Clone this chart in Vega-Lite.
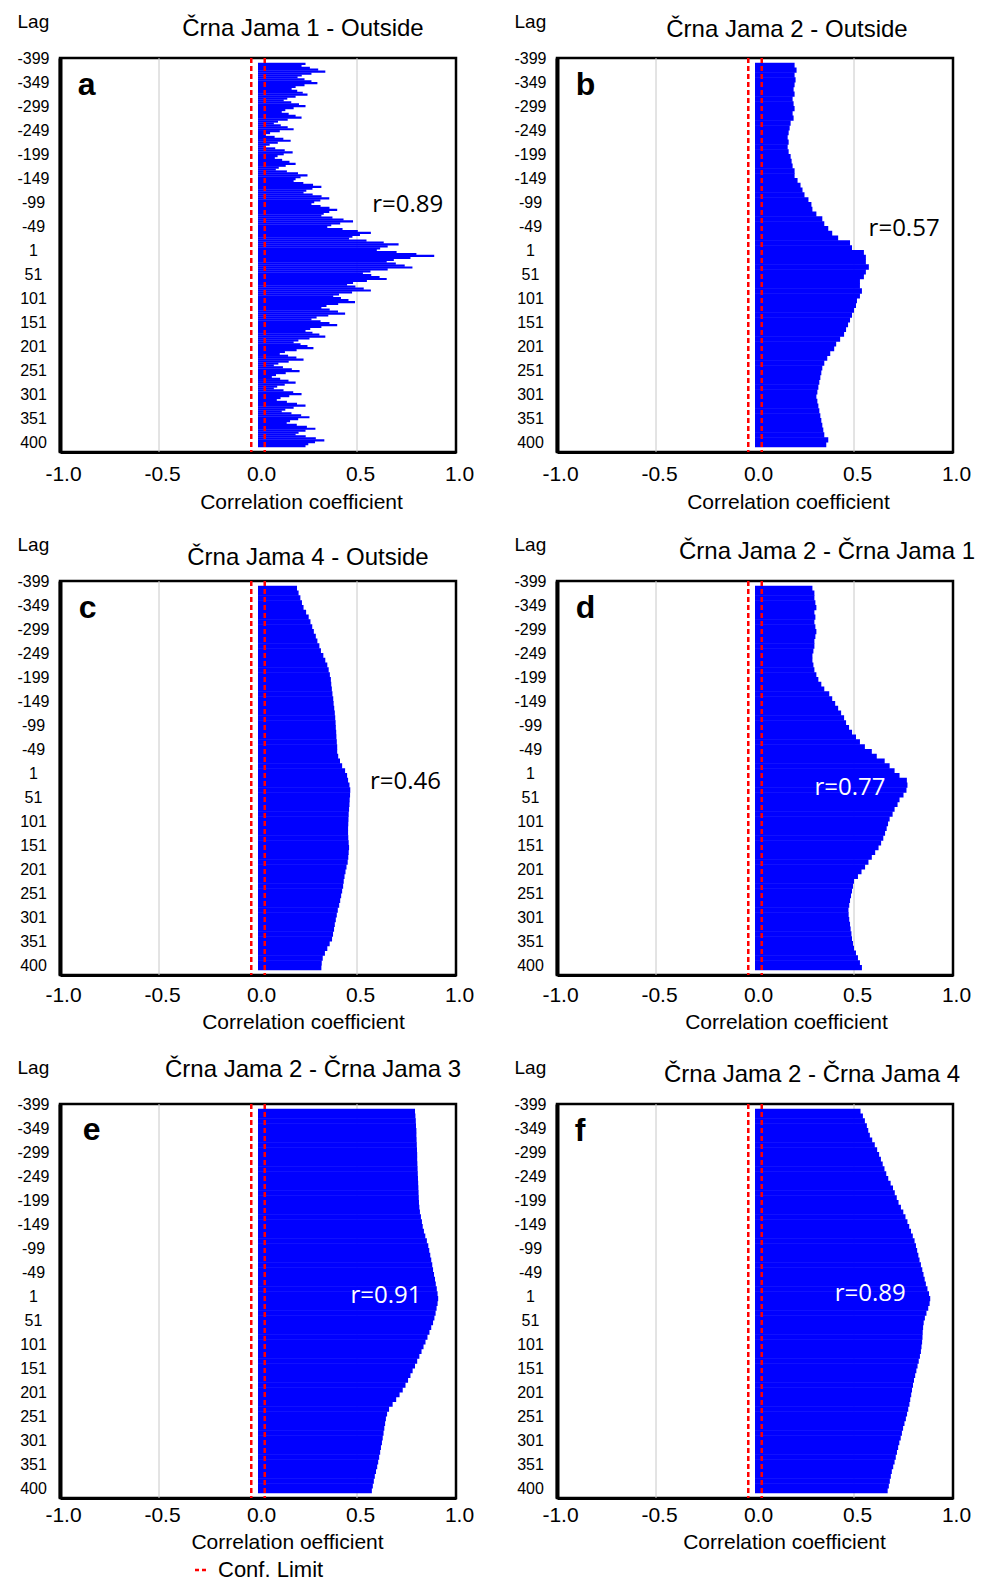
{
"$schema": "https://vega.github.io/schema/vega-lite/v6.json",
"background": "white",
"padding": {"left": 15, "top": 10, "right": 0, "bottom": 0},
"columns": 2,
"bounds": "flush",
"spacing": {"row": 129, "column": 101},
"datasets": {
"a": [
{"lag":-398,"r":0.24},
{"lag":-394,"r":0.22},{"lag":-390,"r":0.262},{"lag":-386,"r":0.304},{"lag":-382,"r":0.34},{"lag":-378,"r":0.27},{"lag":-374,"r":0.221},
{"lag":-370,"r":0.2},{"lag":-366,"r":0.235},{"lag":-362,"r":0.27},{"lag":-358,"r":0.3},{"lag":-354,"r":0.235},{"lag":-350,"r":0.19},
{"lag":-346,"r":0.17},{"lag":-342,"r":0.198},{"lag":-338,"r":0.226},{"lag":-334,"r":0.25},{"lag":-330,"r":0.19},{"lag":-326,"r":0.148},
{"lag":-322,"r":0.13},{"lag":-318,"r":0.168},{"lag":-314,"r":0.207},{"lag":-310,"r":0.24},{"lag":-306,"r":0.18},{"lag":-302,"r":0.138},
{"lag":-298,"r":0.12},{"lag":-294,"r":0.155},{"lag":-290,"r":0.19},{"lag":-286,"r":0.22},{"lag":-282,"r":0.15},{"lag":-278,"r":0.101},
{"lag":-274,"r":0.08},{"lag":-270,"r":0.115},{"lag":-266,"r":0.15},{"lag":-262,"r":0.18},{"lag":-258,"r":0.11},{"lag":-254,"r":0.061},
{"lag":-250,"r":0.04},{"lag":-246,"r":0.084},{"lag":-242,"r":0.128},{"lag":-238,"r":0.165},{"lag":-234,"r":0.1},{"lag":-230,"r":0.059},
{"lag":-226,"r":0.04},{"lag":-222,"r":0.087},{"lag":-218,"r":0.135},{"lag":-214,"r":0.175},{"lag":-210,"r":0.13},{"lag":-206,"r":0.099},
{"lag":-202,"r":0.085},{"lag":-198,"r":0.122},{"lag":-194,"r":0.159},{"lag":-190,"r":0.19},{"lag":-186,"r":0.14},{"lag":-182,"r":0.105},
{"lag":-178,"r":0.09},{"lag":-174,"r":0.146},{"lag":-170,"r":0.202},{"lag":-166,"r":0.25},{"lag":-162,"r":0.215},{"lag":-158,"r":0.19},
{"lag":-154,"r":0.18},{"lag":-150,"r":0.229},{"lag":-146,"r":0.278},{"lag":-142,"r":0.32},{"lag":-138,"r":0.275},{"lag":-134,"r":0.244},
{"lag":-130,"r":0.23},{"lag":-126,"r":0.276},{"lag":-122,"r":0.321},{"lag":-118,"r":0.36},{"lag":-114,"r":0.315},{"lag":-110,"r":0.284},
{"lag":-106,"r":0.27},{"lag":-102,"r":0.316},{"lag":-98,"r":0.361},{"lag":-94,"r":0.4},{"lag":-90,"r":0.36},{"lag":-86,"r":0.332},
{"lag":-82,"r":0.32},{"lag":-78,"r":0.376},{"lag":-74,"r":0.432},{"lag":-70,"r":0.48},{"lag":-66,"r":0.415},{"lag":-62,"r":0.37},
{"lag":-58,"r":0.35},{"lag":-54,"r":0.427},{"lag":-50,"r":0.504},{"lag":-46,"r":0.57},{"lag":-42,"r":0.515},{"lag":-38,"r":0.477},
{"lag":-34,"r":0.46},{"lag":-30,"r":0.548},{"lag":-26,"r":0.635},{"lag":-22,"r":0.71},{"lag":-18,"r":0.655},{"lag":-14,"r":0.617},
{"lag":-10,"r":0.6},{"lag":-6,"r":0.7},{"lag":-2,"r":0.8},{"lag":2,"r":0.89},{"lag":6,"r":0.77},{"lag":10,"r":0.686},
{"lag":14,"r":0.65},{"lag":18,"r":0.696},{"lag":22,"r":0.741},{"lag":26,"r":0.78},{"lag":30,"r":0.655},{"lag":34,"r":0.568},
{"lag":38,"r":0.53},{"lag":42,"r":0.572},{"lag":46,"r":0.614},{"lag":50,"r":0.65},{"lag":54,"r":0.55},{"lag":58,"r":0.48},
{"lag":62,"r":0.45},{"lag":66,"r":0.492},{"lag":70,"r":0.534},{"lag":74,"r":0.57},{"lag":78,"r":0.475},{"lag":82,"r":0.409},
{"lag":86,"r":0.38},{"lag":90,"r":0.419},{"lag":94,"r":0.457},{"lag":98,"r":0.49},{"lag":102,"r":0.405},{"lag":106,"r":0.346},
{"lag":110,"r":0.32},{"lag":114,"r":0.362},{"lag":118,"r":0.404},{"lag":122,"r":0.44},{"lag":126,"r":0.355},{"lag":130,"r":0.296},
{"lag":134,"r":0.27},{"lag":138,"r":0.316},{"lag":142,"r":0.361},{"lag":146,"r":0.4},{"lag":150,"r":0.32},{"lag":154,"r":0.264},
{"lag":158,"r":0.24},{"lag":162,"r":0.275},{"lag":166,"r":0.31},{"lag":170,"r":0.34},{"lag":174,"r":0.26},{"lag":178,"r":0.204},
{"lag":182,"r":0.18},{"lag":186,"r":0.215},{"lag":190,"r":0.25},{"lag":194,"r":0.28},{"lag":198,"r":0.195},{"lag":202,"r":0.136},
{"lag":206,"r":0.11},{"lag":210,"r":0.152},{"lag":214,"r":0.194},{"lag":218,"r":0.23},{"lag":222,"r":0.155},{"lag":226,"r":0.103},
{"lag":230,"r":0.08},{"lag":234,"r":0.126},{"lag":238,"r":0.171},{"lag":242,"r":0.21},{"lag":246,"r":0.14},{"lag":250,"r":0.091},
{"lag":254,"r":0.07},{"lag":258,"r":0.112},{"lag":262,"r":0.154},{"lag":266,"r":0.19},{"lag":270,"r":0.135},{"lag":274,"r":0.097},
{"lag":278,"r":0.08},{"lag":282,"r":0.129},{"lag":286,"r":0.178},{"lag":290,"r":0.22},{"lag":294,"r":0.158},{"lag":298,"r":0.114},
{"lag":302,"r":0.095},{"lag":306,"r":0.146},{"lag":310,"r":0.197},{"lag":314,"r":0.24},{"lag":318,"r":0.18},{"lag":322,"r":0.138},
{"lag":326,"r":0.12},{"lag":330,"r":0.169},{"lag":334,"r":0.218},{"lag":338,"r":0.26},{"lag":342,"r":0.203},{"lag":346,"r":0.162},
{"lag":350,"r":0.145},{"lag":354,"r":0.196},{"lag":358,"r":0.247},{"lag":362,"r":0.29},{"lag":366,"r":0.24},{"lag":370,"r":0.205},
{"lag":374,"r":0.19},{"lag":378,"r":0.241},{"lag":382,"r":0.292},{"lag":386,"r":0.335},{"lag":390,"r":0.288},{"lag":394,"r":0.254},
{"lag":398,"r":0.24}
],
"b": [
{"lag":-395,"r":0.2},{"lag":-385,"r":0.21},{"lag":-375,"r":0.2},{"lag":-365,"r":0.205},{"lag":-355,"r":0.2},{"lag":-345,"r":0.195},{"lag":-335,"r":0.2},{"lag":-325,"r":0.19},{"lag":-315,"r":0.195},{"lag":-305,"r":0.2},
{"lag":-295,"r":0.19},{"lag":-285,"r":0.195},{"lag":-275,"r":0.18},{"lag":-265,"r":0.175},{"lag":-255,"r":0.17},{"lag":-245,"r":0.165},{"lag":-235,"r":0.17},{"lag":-225,"r":0.165},{"lag":-215,"r":0.17},{"lag":-205,"r":0.18},
{"lag":-195,"r":0.185},{"lag":-185,"r":0.19},{"lag":-175,"r":0.2},{"lag":-165,"r":0.2},{"lag":-155,"r":0.215},{"lag":-145,"r":0.23},{"lag":-135,"r":0.24},{"lag":-125,"r":0.25},{"lag":-115,"r":0.27},{"lag":-105,"r":0.285},
{"lag":-95,"r":0.29},{"lag":-85,"r":0.31},{"lag":-75,"r":0.34},{"lag":-65,"r":0.35},{"lag":-55,"r":0.37},{"lag":-45,"r":0.39},{"lag":-35,"r":0.42},{"lag":-25,"r":0.48},{"lag":-15,"r":0.49},{"lag":-5,"r":0.55},
{"lag":5,"r":0.56},{"lag":15,"r":0.56},{"lag":25,"r":0.575},{"lag":35,"r":0.56},{"lag":45,"r":0.55},{"lag":55,"r":0.53},{"lag":65,"r":0.53},{"lag":75,"r":0.54},{"lag":85,"r":0.53},{"lag":95,"r":0.515},
{"lag":105,"r":0.51},{"lag":115,"r":0.5},{"lag":125,"r":0.49},{"lag":135,"r":0.48},{"lag":145,"r":0.47},{"lag":155,"r":0.46},{"lag":165,"r":0.45},{"lag":175,"r":0.43},{"lag":185,"r":0.41},{"lag":195,"r":0.4},
{"lag":205,"r":0.38},{"lag":215,"r":0.365},{"lag":225,"r":0.35},{"lag":235,"r":0.34},{"lag":245,"r":0.335},{"lag":255,"r":0.33},{"lag":265,"r":0.325},{"lag":275,"r":0.32},{"lag":285,"r":0.315},{"lag":295,"r":0.31},
{"lag":305,"r":0.315},{"lag":315,"r":0.32},{"lag":325,"r":0.325},{"lag":335,"r":0.33},{"lag":345,"r":0.335},{"lag":355,"r":0.34},{"lag":365,"r":0.345},{"lag":375,"r":0.35},{"lag":385,"r":0.37},{"lag":395,"r":0.36}
],
"c": [
{"lag":-395,"r":0.197},{"lag":-385,"r":0.205},{"lag":-375,"r":0.214},{"lag":-365,"r":0.222},{"lag":-355,"r":0.23},{"lag":-345,"r":0.243},{"lag":-335,"r":0.256},{"lag":-325,"r":0.265},{"lag":-315,"r":0.274},{"lag":-305,"r":0.282},
{"lag":-295,"r":0.292},{"lag":-285,"r":0.3},{"lag":-275,"r":0.31},{"lag":-265,"r":0.318},{"lag":-255,"r":0.33},{"lag":-245,"r":0.34},{"lag":-235,"r":0.35},{"lag":-225,"r":0.357},{"lag":-215,"r":0.363},{"lag":-205,"r":0.368},
{"lag":-195,"r":0.37},{"lag":-185,"r":0.373},{"lag":-175,"r":0.376},{"lag":-165,"r":0.38},{"lag":-155,"r":0.382},{"lag":-145,"r":0.385},{"lag":-135,"r":0.388},{"lag":-125,"r":0.39},{"lag":-115,"r":0.392},{"lag":-105,"r":0.393},
{"lag":-95,"r":0.395},{"lag":-85,"r":0.396},{"lag":-75,"r":0.398},{"lag":-65,"r":0.4},{"lag":-55,"r":0.4},{"lag":-45,"r":0.405},{"lag":-35,"r":0.414},{"lag":-25,"r":0.425},{"lag":-15,"r":0.44},{"lag":-5,"r":0.45},
{"lag":5,"r":0.455},{"lag":15,"r":0.462},{"lag":25,"r":0.466},{"lag":35,"r":0.465},{"lag":45,"r":0.463},{"lag":55,"r":0.462},{"lag":65,"r":0.46},{"lag":75,"r":0.458},{"lag":85,"r":0.457},{"lag":95,"r":0.456},
{"lag":105,"r":0.455},{"lag":115,"r":0.455},{"lag":125,"r":0.456},{"lag":135,"r":0.458},{"lag":145,"r":0.46},{"lag":155,"r":0.458},{"lag":165,"r":0.456},{"lag":175,"r":0.453},{"lag":185,"r":0.447},{"lag":195,"r":0.442},
{"lag":205,"r":0.437},{"lag":215,"r":0.433},{"lag":225,"r":0.43},{"lag":235,"r":0.425},{"lag":245,"r":0.42},{"lag":255,"r":0.415},{"lag":265,"r":0.41},{"lag":275,"r":0.403},{"lag":285,"r":0.398},{"lag":295,"r":0.393},
{"lag":305,"r":0.388},{"lag":315,"r":0.384},{"lag":325,"r":0.379},{"lag":335,"r":0.374},{"lag":345,"r":0.362},{"lag":355,"r":0.35},{"lag":365,"r":0.338},{"lag":375,"r":0.327},{"lag":385,"r":0.322},{"lag":395,"r":0.32}
],
"d": [
{"lag":-395,"r":0.29},{"lag":-385,"r":0.3},{"lag":-375,"r":0.3},{"lag":-365,"r":0.305},{"lag":-355,"r":0.31},{"lag":-345,"r":0.3},{"lag":-335,"r":0.305},{"lag":-325,"r":0.3},{"lag":-315,"r":0.305},{"lag":-305,"r":0.31},
{"lag":-295,"r":0.305},{"lag":-285,"r":0.3},{"lag":-275,"r":0.3},{"lag":-265,"r":0.295},{"lag":-255,"r":0.29},{"lag":-245,"r":0.29},{"lag":-235,"r":0.295},{"lag":-225,"r":0.3},{"lag":-215,"r":0.31},{"lag":-205,"r":0.32},
{"lag":-195,"r":0.335},{"lag":-185,"r":0.35},{"lag":-175,"r":0.375},{"lag":-165,"r":0.39},{"lag":-155,"r":0.405},{"lag":-145,"r":0.42},{"lag":-135,"r":0.435},{"lag":-125,"r":0.45},{"lag":-115,"r":0.46},{"lag":-105,"r":0.475},
{"lag":-95,"r":0.49},{"lag":-85,"r":0.51},{"lag":-75,"r":0.53},{"lag":-65,"r":0.555},{"lag":-55,"r":0.59},{"lag":-45,"r":0.615},{"lag":-35,"r":0.655},{"lag":-25,"r":0.68},{"lag":-15,"r":0.705},{"lag":-5,"r":0.73},
{"lag":5,"r":0.767},{"lag":15,"r":0.77},{"lag":25,"r":0.765},{"lag":35,"r":0.75},{"lag":45,"r":0.73},{"lag":55,"r":0.72},{"lag":65,"r":0.705},{"lag":75,"r":0.695},{"lag":85,"r":0.68},{"lag":95,"r":0.672},
{"lag":105,"r":0.665},{"lag":115,"r":0.657},{"lag":125,"r":0.648},{"lag":135,"r":0.637},{"lag":145,"r":0.624},{"lag":155,"r":0.607},{"lag":165,"r":0.59},{"lag":175,"r":0.573},{"lag":185,"r":0.556},{"lag":195,"r":0.538},
{"lag":205,"r":0.52},{"lag":215,"r":0.5},{"lag":225,"r":0.495},{"lag":235,"r":0.49},{"lag":245,"r":0.485},{"lag":255,"r":0.48},{"lag":265,"r":0.476},{"lag":275,"r":0.472},{"lag":285,"r":0.473},{"lag":295,"r":0.476},
{"lag":305,"r":0.48},{"lag":315,"r":0.483},{"lag":325,"r":0.487},{"lag":335,"r":0.49},{"lag":345,"r":0.495},{"lag":355,"r":0.5},{"lag":365,"r":0.51},{"lag":375,"r":0.52},{"lag":385,"r":0.53},{"lag":395,"r":0.54}
],
"e": [
{"lag":-395,"r":0.793},{"lag":-385,"r":0.795},{"lag":-375,"r":0.797},{"lag":-365,"r":0.798},{"lag":-355,"r":0.8},{"lag":-345,"r":0.8},{"lag":-335,"r":0.801},{"lag":-325,"r":0.802},{"lag":-315,"r":0.803},{"lag":-305,"r":0.804},
{"lag":-295,"r":0.804},{"lag":-285,"r":0.805},{"lag":-275,"r":0.806},{"lag":-265,"r":0.807},{"lag":-255,"r":0.808},{"lag":-245,"r":0.809},{"lag":-235,"r":0.81},{"lag":-225,"r":0.811},{"lag":-215,"r":0.812},{"lag":-205,"r":0.813},
{"lag":-195,"r":0.815},{"lag":-185,"r":0.818},{"lag":-175,"r":0.823},{"lag":-165,"r":0.828},{"lag":-155,"r":0.832},{"lag":-145,"r":0.838},{"lag":-135,"r":0.845},{"lag":-125,"r":0.853},{"lag":-115,"r":0.86},{"lag":-105,"r":0.865},
{"lag":-95,"r":0.87},{"lag":-85,"r":0.875},{"lag":-75,"r":0.88},{"lag":-65,"r":0.884},{"lag":-55,"r":0.889},{"lag":-45,"r":0.894},{"lag":-35,"r":0.898},{"lag":-25,"r":0.903},{"lag":-15,"r":0.907},{"lag":-5,"r":0.91},
{"lag":5,"r":0.907},{"lag":15,"r":0.902},{"lag":25,"r":0.897},{"lag":35,"r":0.891},{"lag":45,"r":0.884},{"lag":55,"r":0.875},{"lag":65,"r":0.866},{"lag":75,"r":0.856},{"lag":85,"r":0.846},{"lag":95,"r":0.836},
{"lag":105,"r":0.826},{"lag":115,"r":0.815},{"lag":125,"r":0.804},{"lag":135,"r":0.793},{"lag":145,"r":0.781},{"lag":155,"r":0.77},{"lag":165,"r":0.758},{"lag":175,"r":0.745},{"lag":185,"r":0.731},{"lag":195,"r":0.715},
{"lag":205,"r":0.698},{"lag":215,"r":0.68},{"lag":225,"r":0.662},{"lag":235,"r":0.652},{"lag":245,"r":0.646},{"lag":255,"r":0.642},{"lag":265,"r":0.638},{"lag":275,"r":0.634},{"lag":285,"r":0.63},{"lag":295,"r":0.626},
{"lag":305,"r":0.621},{"lag":315,"r":0.617},{"lag":325,"r":0.612},{"lag":335,"r":0.607},{"lag":345,"r":0.602},{"lag":355,"r":0.596},{"lag":365,"r":0.59},{"lag":375,"r":0.585},{"lag":385,"r":0.58},{"lag":395,"r":0.575}
],
"f": [
{"lag":-395,"r":0.533},{"lag":-385,"r":0.545},{"lag":-375,"r":0.555},{"lag":-365,"r":0.565},{"lag":-355,"r":0.572},{"lag":-345,"r":0.58},{"lag":-335,"r":0.592},{"lag":-325,"r":0.605},{"lag":-315,"r":0.617},{"lag":-305,"r":0.627},
{"lag":-295,"r":0.636},{"lag":-285,"r":0.645},{"lag":-275,"r":0.654},{"lag":-265,"r":0.663},{"lag":-255,"r":0.673},{"lag":-245,"r":0.685},{"lag":-235,"r":0.697},{"lag":-225,"r":0.706},{"lag":-215,"r":0.716},{"lag":-205,"r":0.725},
{"lag":-195,"r":0.737},{"lag":-185,"r":0.749},{"lag":-175,"r":0.76},{"lag":-165,"r":0.77},{"lag":-155,"r":0.779},{"lag":-145,"r":0.788},{"lag":-135,"r":0.797},{"lag":-125,"r":0.806},{"lag":-115,"r":0.813},{"lag":-105,"r":0.819},
{"lag":-95,"r":0.825},{"lag":-85,"r":0.831},{"lag":-75,"r":0.838},{"lag":-65,"r":0.845},{"lag":-55,"r":0.851},{"lag":-45,"r":0.857},{"lag":-35,"r":0.863},{"lag":-25,"r":0.871},{"lag":-15,"r":0.879},{"lag":-5,"r":0.885},
{"lag":5,"r":0.882},{"lag":15,"r":0.875},{"lag":25,"r":0.866},{"lag":35,"r":0.858},{"lag":45,"r":0.852},{"lag":55,"r":0.849},{"lag":65,"r":0.847},{"lag":75,"r":0.846},{"lag":85,"r":0.844},{"lag":95,"r":0.841},
{"lag":105,"r":0.838},{"lag":115,"r":0.833},{"lag":125,"r":0.827},{"lag":135,"r":0.821},{"lag":145,"r":0.815},{"lag":155,"r":0.809},{"lag":165,"r":0.803},{"lag":175,"r":0.798},{"lag":185,"r":0.793},{"lag":195,"r":0.789},
{"lag":205,"r":0.784},{"lag":215,"r":0.78},{"lag":225,"r":0.774},{"lag":235,"r":0.768},{"lag":245,"r":0.762},{"lag":255,"r":0.755},{"lag":265,"r":0.748},{"lag":275,"r":0.742},{"lag":285,"r":0.736},{"lag":295,"r":0.729},
{"lag":305,"r":0.723},{"lag":315,"r":0.717},{"lag":325,"r":0.711},{"lag":335,"r":0.705},{"lag":345,"r":0.698},{"lag":355,"r":0.691},{"lag":365,"r":0.686},{"lag":375,"r":0.681},{"lag":385,"r":0.676},{"lag":395,"r":0.67}
],
"limits": [{"limit": -0.034}, {"limit": 0.034}],
"grid": [{"g": -0.5}, {"g": 0.5}]
},
"concat": [
{
"width": 396, "height": 394,
"title": {"text": "Črna Jama 1 - Outside", "dx": 45, "dy": -2},
"layer": [
{"data": {"name": "grid"}, "mark": {"type": "rule", "color": "#c8c8c8", "strokeWidth": 1}, "encoding": {"x": {"field": "g", "type": "quantitative"}}},
{"data": {"name": "a"}, "mark": {"type": "bar", "orient": "horizontal", "color": "#0000ff", "size": 2.2, "clip": true},
 "encoding": {
  "y": {"field": "lag", "type": "quantitative", "scale": {"domain": [-400, 400], "reverse": true, "nice": false, "zero": false}, "axis": {"title": "Lag", "values": [-399,-349,-299,-249,-199,-149,-99,-49,1,51,101,151,201,251,301,351,400], "tickCount": 40, "labelOverlap": false, "labelExpr": "replace(datum.label, '−', '-')"}},
  "x": {"field": "r", "type": "quantitative", "scale": {"domain": [-1, 1], "nice": false}, "axis": {"title": "Correlation coefficient", "values": [-1,-0.5,0,0.5,1], "tickCount": 10, "format": ".1f", "labelOverlap": false, "labelExpr": "replace(datum.label, '−', '-')", "titleX": 241}}
 }},
{"data": {"name": "limits"}, "mark": {"type": "rule", "color": "#ff0000", "strokeDash": [5, 3], "strokeWidth": 2.5}, "encoding": {"x": {"field": "limit", "type": "quantitative"}}},
{"data": {"values": [{"lag": -103.5, "r": 0.756, "label": "r=0.89"}]}, "mark": {"type": "text", "font": "Open Sans", "fontSize": 24, "color": "black", "align": "center", "baseline": "middle"}, "encoding": {"x": {"field": "r", "type": "quantitative"}, "y": {"field": "lag", "type": "quantitative"}, "text": {"field": "label"}}},
{"data": {"values": [{"lag": -333, "r": -0.91, "label": "a"}]}, "mark": {"type": "text", "font": "Liberation Sans", "fontSize": 32, "fontWeight": "bold", "color": "black", "align": "left", "baseline": "alphabetic"}, "encoding": {"x": {"field": "r", "type": "quantitative"}, "y": {"field": "lag", "type": "quantitative"}, "text": {"field": "label"}}}
]
},
{
"width": 396, "height": 394,
"title": {"text": "Črna Jama 2 - Outside", "dx": 32, "dy": -1},
"layer": [
{"data": {"name": "grid"}, "mark": {"type": "rule", "color": "#c8c8c8", "strokeWidth": 1}, "encoding": {"x": {"field": "g", "type": "quantitative"}}},
{"data": {"name": "b"}, "mark": {"type": "bar", "orient": "horizontal", "color": "#0000ff", "size": 5.3, "clip": true},
 "encoding": {
  "y": {"field": "lag", "type": "quantitative", "scale": {"domain": [-400, 400], "reverse": true, "nice": false, "zero": false}, "axis": {"title": "Lag", "values": [-399,-349,-299,-249,-199,-149,-99,-49,1,51,101,151,201,251,301,351,400], "tickCount": 40, "labelOverlap": false, "labelExpr": "replace(datum.label, '−', '-')"}},
  "x": {"field": "r", "type": "quantitative", "scale": {"domain": [-1, 1], "nice": false}, "axis": {"title": "Correlation coefficient", "values": [-1,-0.5,0,0.5,1], "tickCount": 10, "format": ".1f", "labelOverlap": false, "labelExpr": "replace(datum.label, '−', '-')", "titleX": 231}}
 }},
{"data": {"name": "limits"}, "mark": {"type": "rule", "color": "#ff0000", "strokeDash": [5, 3], "strokeWidth": 2.5}, "encoding": {"x": {"field": "limit", "type": "quantitative"}}},
{"data": {"values": [{"lag": -55, "r": 0.753, "label": "r=0.57"}]}, "mark": {"type": "text", "font": "Open Sans", "fontSize": 24, "color": "black", "align": "center", "baseline": "middle"}, "encoding": {"x": {"field": "r", "type": "quantitative"}, "y": {"field": "lag", "type": "quantitative"}, "text": {"field": "label"}}},
{"data": {"values": [{"lag": -333, "r": -0.905, "label": "b"}]}, "mark": {"type": "text", "font": "Liberation Sans", "fontSize": 32, "fontWeight": "bold", "color": "black", "align": "left", "baseline": "alphabetic"}, "encoding": {"x": {"field": "r", "type": "quantitative"}, "y": {"field": "lag", "type": "quantitative"}, "text": {"field": "label"}}}
]
},
{
"width": 396, "height": 394,
"title": {"text": "Črna Jama 4 - Outside", "dx": 50, "dy": 4},
"layer": [
{"data": {"name": "grid"}, "mark": {"type": "rule", "color": "#c8c8c8", "strokeWidth": 1}, "encoding": {"x": {"field": "g", "type": "quantitative"}}},
{"data": {"name": "c"}, "mark": {"type": "bar", "orient": "horizontal", "color": "#0000ff", "size": 5.3, "clip": true},
 "encoding": {
  "y": {"field": "lag", "type": "quantitative", "scale": {"domain": [-400, 400], "reverse": true, "nice": false, "zero": false}, "axis": {"title": "Lag", "values": [-399,-349,-299,-249,-199,-149,-99,-49,1,51,101,151,201,251,301,351,400], "tickCount": 40, "labelOverlap": false, "labelExpr": "replace(datum.label, '−', '-')"}},
  "x": {"field": "r", "type": "quantitative", "scale": {"domain": [-1, 1], "nice": false}, "axis": {"title": "Correlation coefficient", "values": [-1,-0.5,0,0.5,1], "tickCount": 10, "format": ".1f", "labelOverlap": false, "labelExpr": "replace(datum.label, '−', '-')", "titleX": 243, "labelPadding": 9, "titleY": 53}}
 }},
{"data": {"name": "limits"}, "mark": {"type": "rule", "color": "#ff0000", "strokeDash": [5, 3], "strokeWidth": 2.5}, "encoding": {"x": {"field": "limit", "type": "quantitative"}}},
{"data": {"values": [{"lag": 9, "r": 0.745, "label": "r=0.46"}]}, "mark": {"type": "text", "font": "Open Sans", "fontSize": 24, "color": "black", "align": "center", "baseline": "middle"}, "encoding": {"x": {"field": "r", "type": "quantitative"}, "y": {"field": "lag", "type": "quantitative"}, "text": {"field": "label"}}},
{"data": {"values": [{"lag": -333, "r": -0.905, "label": "c"}]}, "mark": {"type": "text", "font": "Liberation Sans", "fontSize": 32, "fontWeight": "bold", "color": "black", "align": "left", "baseline": "alphabetic"}, "encoding": {"x": {"field": "r", "type": "quantitative"}, "y": {"field": "lag", "type": "quantitative"}, "text": {"field": "label"}}}
]
},
{
"width": 396, "height": 394,
"title": {"text": "Črna Jama 2 - Črna Jama 1", "dx": 72, "dy": -2},
"layer": [
{"data": {"name": "grid"}, "mark": {"type": "rule", "color": "#c8c8c8", "strokeWidth": 1}, "encoding": {"x": {"field": "g", "type": "quantitative"}}},
{"data": {"name": "d"}, "mark": {"type": "bar", "orient": "horizontal", "color": "#0000ff", "size": 5.3, "clip": true},
 "encoding": {
  "y": {"field": "lag", "type": "quantitative", "scale": {"domain": [-400, 400], "reverse": true, "nice": false, "zero": false}, "axis": {"title": "Lag", "values": [-399,-349,-299,-249,-199,-149,-99,-49,1,51,101,151,201,251,301,351,400], "tickCount": 40, "labelOverlap": false, "labelExpr": "replace(datum.label, '−', '-')"}},
  "x": {"field": "r", "type": "quantitative", "scale": {"domain": [-1, 1], "nice": false}, "axis": {"title": "Correlation coefficient", "values": [-1,-0.5,0,0.5,1], "tickCount": 10, "format": ".1f", "labelOverlap": false, "labelExpr": "replace(datum.label, '−', '-')", "titleX": 229, "labelPadding": 9, "titleY": 53}}
 }},
{"data": {"name": "limits"}, "mark": {"type": "rule", "color": "#ff0000", "strokeDash": [5, 3], "strokeWidth": 2.5}, "encoding": {"x": {"field": "limit", "type": "quantitative"}}},
{"data": {"values": [{"lag": 21, "r": 0.48, "label": "r=0.77"}]}, "mark": {"type": "text", "font": "Open Sans", "fontSize": 24, "color": "white", "align": "center", "baseline": "middle"}, "encoding": {"x": {"field": "r", "type": "quantitative"}, "y": {"field": "lag", "type": "quantitative"}, "text": {"field": "label"}}},
{"data": {"values": [{"lag": -333, "r": -0.905, "label": "d"}]}, "mark": {"type": "text", "font": "Liberation Sans", "fontSize": 32, "fontWeight": "bold", "color": "black", "align": "left", "baseline": "alphabetic"}, "encoding": {"x": {"field": "r", "type": "quantitative"}, "y": {"field": "lag", "type": "quantitative"}, "text": {"field": "label"}}}
]
},
{
"width": 396, "height": 394,
"title": {"text": "Črna Jama 2 - Črna Jama 3", "dx": 55, "dy": -7},
"layer": [
{"data": {"name": "grid"}, "mark": {"type": "rule", "color": "#c8c8c8", "strokeWidth": 1}, "encoding": {"x": {"field": "g", "type": "quantitative"}}},
{"data": {"name": "e"}, "mark": {"type": "bar", "orient": "horizontal", "color": "#0000ff", "size": 5.3, "clip": true},
 "encoding": {
  "y": {"field": "lag", "type": "quantitative", "scale": {"domain": [-400, 400], "reverse": true, "nice": false, "zero": false}, "axis": {"title": "Lag", "values": [-399,-349,-299,-249,-199,-149,-99,-49,1,51,101,151,201,251,301,351,400], "tickCount": 40, "labelOverlap": false, "labelExpr": "replace(datum.label, '−', '-')"}},
  "x": {"field": "r", "type": "quantitative", "scale": {"domain": [-1, 1], "nice": false}, "axis": {"title": "Correlation oefficient", "values": [-1,-0.5,0,0.5,1], "tickCount": 10, "format": ".1f", "labelOverlap": false, "labelExpr": "replace(datum.label, '−', '-')", "titleX": 227, "labelPadding": 6, "titleY": 50}}
 }},
{"data": {"name": "limits"}, "mark": {"type": "rule", "strokeDash": [5, 3], "strokeWidth": 2.5}, "encoding": {"x": {"field": "limit", "type": "quantitative"},
  "color": {"datum": "Conf. Limit", "type": "nominal", "scale": {"range": ["#ff0000"]},
   "legend": {"title": null, "orient": "none", "legendX": 130, "legendY": 1501, "symbolType": "stroke", "symbolDash": [4, 3], "symbolStrokeWidth": 2.5, "symbolSize": 144, "symbolStrokeColor": "#ff0000", "labelFontSize": 22, "labelFont": "Liberation Sans", "labelColor": "black", "labelOffset": 6, "padding": 0}}}},
{"data": {"values": [{"lag": -9.5, "r": 0.646, "label": "r=0.91"}]}, "mark": {"type": "text", "font": "Open Sans", "fontSize": 24, "color": "white", "align": "center", "baseline": "middle"}, "encoding": {"x": {"field": "r", "type": "quantitative"}, "y": {"field": "lag", "type": "quantitative"}, "text": {"field": "label"}}},
{"data": {"values": [{"lag": -335, "r": -0.885, "label": "e"}]}, "mark": {"type": "text", "font": "Liberation Sans", "fontSize": 32, "fontWeight": "bold", "color": "black", "align": "left", "baseline": "alphabetic"}, "encoding": {"x": {"field": "r", "type": "quantitative"}, "y": {"field": "lag", "type": "quantitative"}, "text": {"field": "label"}}}
]
},
{
"width": 396, "height": 394,
"title": {"text": "Črna Jama 2 - Črna Jama 4", "dx": 57, "dy": -2},
"layer": [
{"data": {"name": "grid"}, "mark": {"type": "rule", "color": "#c8c8c8", "strokeWidth": 1}, "encoding": {"x": {"field": "g", "type": "quantitative"}}},
{"data": {"name": "f"}, "mark": {"type": "bar", "orient": "horizontal", "color": "#0000ff", "size": 5.3, "clip": true},
 "encoding": {
  "y": {"field": "lag", "type": "quantitative", "scale": {"domain": [-400, 400], "reverse": true, "nice": false, "zero": false}, "axis": {"title": "Lag", "values": [-399,-349,-299,-249,-199,-149,-99,-49,1,51,101,151,201,251,301,351,400], "tickCount": 40, "labelOverlap": false, "labelExpr": "replace(datum.label, '−', '-')"}},
  "x": {"field": "r", "type": "quantitative", "scale": {"domain": [-1, 1], "nice": false}, "axis": {"title": "Correlation coefficient", "values": [-1,-0.5,0,0.5,1], "tickCount": 10, "format": ".1f", "labelOverlap": false, "labelExpr": "replace(datum.label, '−', '-')", "titleX": 227, "labelPadding": 6, "titleY": 50}}
 }},
{"data": {"name": "limits"}, "mark": {"type": "rule", "color": "#ff0000", "strokeDash": [5, 3], "strokeWidth": 2.5}, "encoding": {"x": {"field": "limit", "type": "quantitative"}}},
{"data": {"values": [{"lag": -13.6, "r": 0.582, "label": "r=0.89"}]}, "mark": {"type": "text", "font": "Open Sans", "fontSize": 24, "color": "white", "align": "center", "baseline": "middle"}, "encoding": {"x": {"field": "r", "type": "quantitative"}, "y": {"field": "lag", "type": "quantitative"}, "text": {"field": "label"}}},
{"data": {"values": [{"lag": -333, "r": -0.91, "label": "f"}]}, "mark": {"type": "text", "font": "Liberation Sans", "fontSize": 32, "fontWeight": "bold", "color": "black", "align": "left", "baseline": "alphabetic"}, "encoding": {"x": {"field": "r", "type": "quantitative"}, "y": {"field": "lag", "type": "quantitative"}, "text": {"field": "label"}}}
]
}
],
"config": {
"font": "Liberation Sans",
"view": {"stroke": "black", "strokeWidth": 2.5},
"title": {"font": "Liberation Sans", "fontSize": 24, "fontWeight": "normal", "color": "black", "anchor": "middle", "frame": "group", "baseline": "alphabetic", "offset": -31},
"axisY": {"labelFont": "Liberation Sans", "labelFontSize": 16, "labelColor": "black", "labelAlign": "center", "labelBaseline": "middle", "labelPadding": 27, "labelOffset": -5, "labelFlush": false, "labelOverlap": false, "ticks": false, "tickSize": 0, "domainColor": "black", "domainWidth": 4, "grid": false, "titleAngle": 0, "titleX": -43, "titleY": -31, "titleAlign": "left", "titleBaseline": "alphabetic", "titleFont": "Liberation Sans", "titleFontSize": 19, "titleFontWeight": "normal", "titleColor": "black", "zindex": 1},
"axisX": {"labelFont": "Liberation Sans", "labelFontSize": 21, "labelColor": "black", "labelPadding": 11, "labelOffset": 3, "labelFlush": false, "labelOverlap": false, "ticks": false, "tickSize": 0, "domainColor": "black", "domainWidth": 3, "grid": false, "titleFont": "Liberation Sans", "titleFontSize": 21, "titleFontWeight": "normal", "titleColor": "black", "titleY": 56, "titleAlign": "center", "titleBaseline": "alphabetic", "zindex": 1}
}
}
